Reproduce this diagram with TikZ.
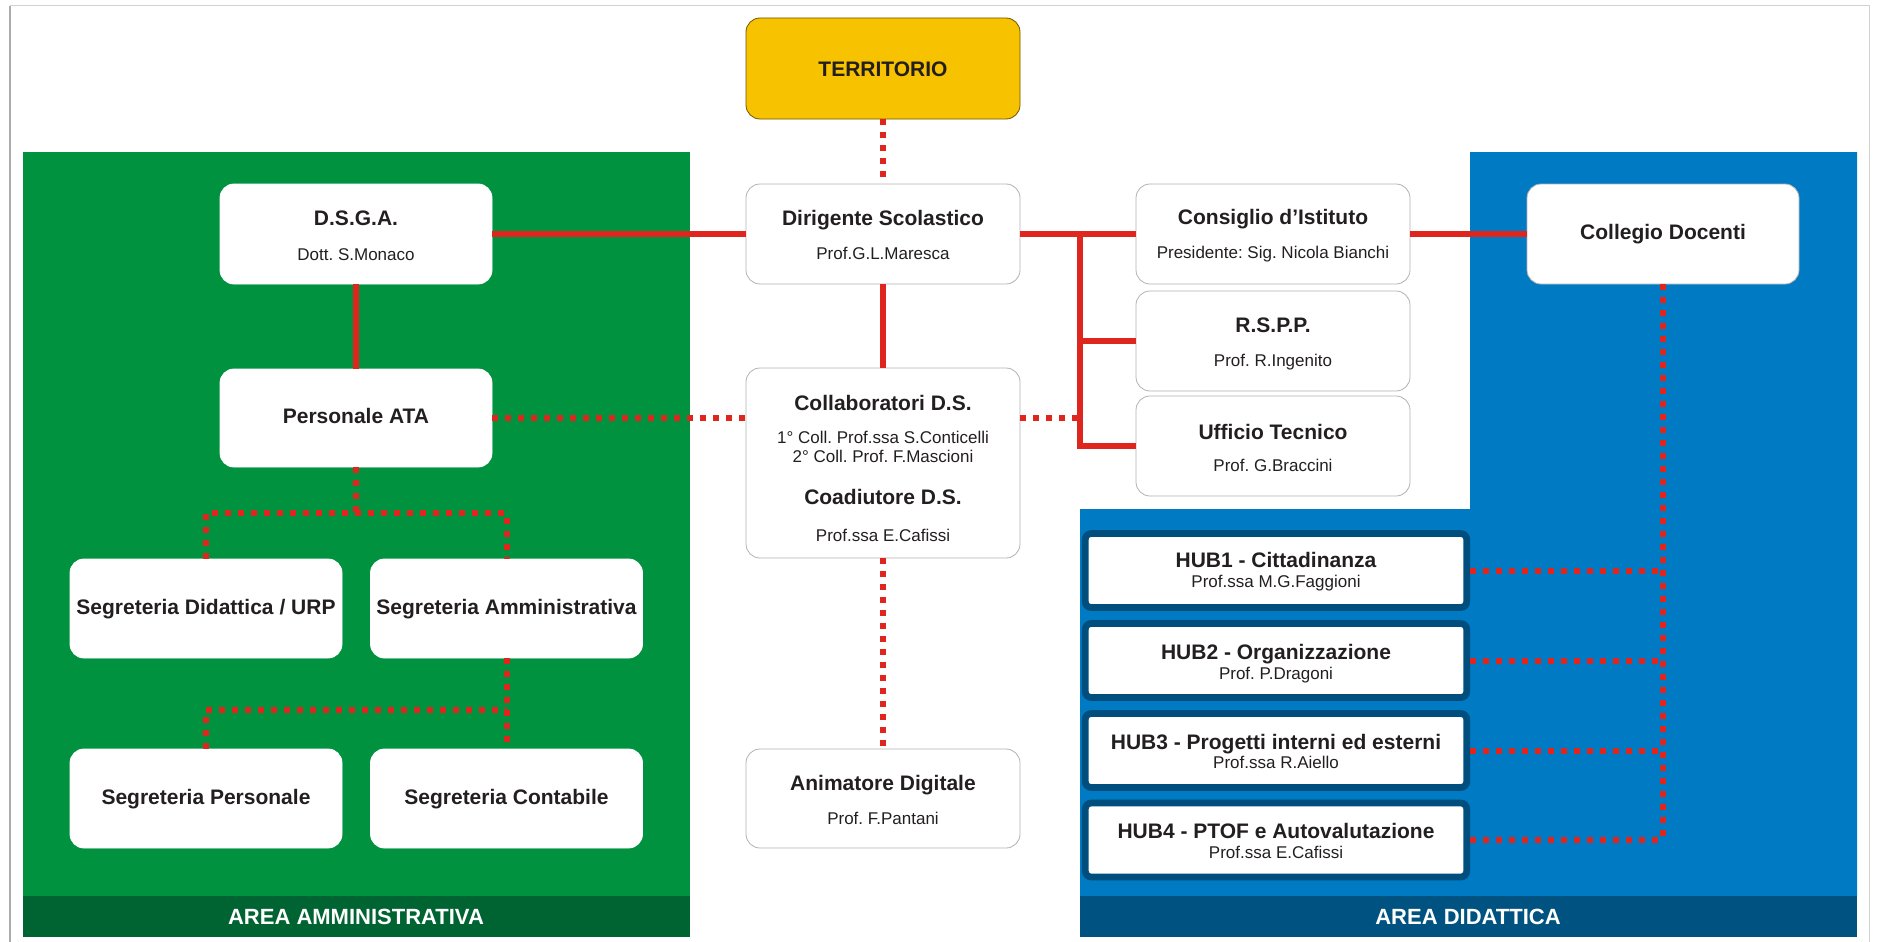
\documentclass[tikz,border=0pt]{standalone}
\usepackage{fontspec}
\setmainfont{Liberation Sans}
\usepackage{xcolor}
\usepackage{tikz}

\definecolor{verde}{RGB}{0,146,63}
\definecolor{verdescuro}{RGB}{0,100,50}
\definecolor{blu}{RGB}{0,122,194}
\definecolor{bluscuro}{RGB}{0,82,128}
\definecolor{hubscuro}{RGB}{0,78,125}
\definecolor{rosso}{RGB}{222,38,30}
\definecolor{giallo}{RGB}{247,194,0}
\definecolor{testo}{RGB}{35,31,32}

\newcommand{\titfont}{\fontsize{21}{25}\selectfont\bfseries}
\newcommand{\nomefont}{\fontsize{17}{20}\selectfont}
\newcommand{\areafont}{\fontsize{22}{26}\selectfont\bfseries}

\begin{document}
\frenchspacing
\begin{tikzpicture}[x=1pt,y=-1pt]
		\tikzstyle{box}=[draw=gray!60, line width=0.8pt, fill=white, rounded corners=14pt, minimum width=274pt, minimum height=100pt, inner sep=0pt, font=\titfont, text=testo, text height=15pt, text depth=4pt]
		\tikzstyle{box_green}=[box, draw=white, minimum width=272pt]
		\tikzstyle{box_terr}=[box, fill=giallo, draw=black!55!giallo, text height=17pt, text depth=0pt]
		\tikzstyle{hub}=[fill=white, draw=hubscuro, line width=6.75pt, rounded corners=6pt, minimum width=381.5pt, minimum height=74pt]
		\tikzstyle{titolo}=[font=\titfont, text=testo, text height=15pt, text depth=4pt, inner sep=0pt]
		\tikzstyle{nome}=[font=\nomefont, text=testo, text height=12.3pt, text depth=3.6pt, inner sep=0pt]
		\tikzstyle{area_text}=[font=\areafont, text=white]
		\tikzstyle{link}=[draw=rosso, line width=6pt]
		\tikzstyle{link_dot}=[link, dash pattern=on 6pt off 7pt]

		\useasboundingbox (0,0) rectangle (1877,942);
		\draw[gray!35, line width=1pt] (10,942) -- (10,6) -- (1869,6) -- (1869,942);
		\draw[gray!65, line width=1.5pt] (10,6) -- (10,942);

		% aree
		\fill[verde] (23,152) rectangle (690,896);
		\fill[verdescuro] (23,896) rectangle (690,937);
		\fill[blu] (1470,152) -- (1857,152) -- (1857,896) -- (1080,896) -- (1080,509) -- (1470,509) -- cycle;
		\fill[bluscuro] (1080,896) rectangle (1857,937);
		\node [area_text] (area_amm) at (356,917) {AREA AMMINISTRATIVA};
		\node [area_text] (area_did) at (1468,917) {AREA DIDATTICA};

		% colonna centrale
		\node [box_terr, minimum height=101pt] (terr) at (883,68.5) {TERRITORIO};

		\node [box] (ds) at (883,234) {};
		\node [titolo] (ds_t) at (883,220) {Dirigente Scolastico};
		\node [nome] (ds_n) at (883,255) {Prof.G.L.Maresca};

		\node [box, minimum height=190pt] (collab) at (883,463) {};
		\node [titolo] (collab_t) at (883,405) {Collaboratori D.S.};
		\node [nome] (collab_n1) at (883,439) {1° Coll. Prof.ssa S.Conticelli};
		\node [nome] (collab_n2) at (883,458) {2° Coll. Prof. F.Mascioni};
		\node [titolo] (coad_t) at (883,499) {Coadiutore D.S.};
		\node [nome] (coad_n) at (883,537) {Prof.ssa E.Cafissi};

		\node [box, minimum height=99pt] (anim) at (883,798.5) {};
		\node [titolo] (anim_t) at (883,785) {Animatore Digitale};
		\node [nome] (anim_n) at (883,820) {Prof. F.Pantani};

		% area amministrativa
		\node [box_green] (dsga) at (356,234) {};
		\node [titolo] (dsga_t) at (356,220) {D.S.G.A.};
		\node [nome] (dsga_n) at (356,256) {Dott. S.Monaco};

		\node [box_green, minimum height=98pt] (ata) at (356,418) {Personale ATA};

		\node [box_green, minimum height=99pt] (seg_did) at (206,608.5) {Segreteria Didattica / URP};
		\node [box_green, minimum height=99pt] (seg_amm) at (506.5,608.5) {Segreteria Amministrativa};
		\node [box_green, minimum height=99pt] (seg_pers) at (206,798.5) {Segreteria Personale};
		\node [box_green, minimum height=99pt] (seg_cont) at (506.5,798.5) {Segreteria Contabile};

		% organi a destra
		\node [box] (consiglio) at (1273,234) {};
		\node [titolo] (consiglio_t) at (1273,219) {Consiglio d’Istituto};
		\node [nome] (consiglio_n) at (1273,254) {Presidente: Sig. Nicola Bianchi};

		\node [box] (rspp) at (1273,341) {};
		\node [titolo] (rspp_t) at (1273,327) {R.S.P.P.};
		\node [nome] (rspp_n) at (1273,362) {Prof. R.Ingenito};

		\node [box] (uff) at (1273,446) {};
		\node [titolo] (uff_t) at (1273,434) {Ufficio Tecnico};
		\node [nome] (uff_n) at (1273,467) {Prof. G.Braccini};

		\node [box, minimum width=272pt] (collegio) at (1663,234) {Collegio Docenti};

		% area didattica
		\node [hub] (hub1) at (1276,570.5) {};
		\node [titolo] (hub1_t) at (1276,562) {HUB1 - Cittadinanza};
		\node [nome] (hub1_n) at (1276,583) {Prof.ssa M.G.Faggioni};

		\node [hub] (hub2) at (1276,660.5) {};
		\node [titolo] (hub2_t) at (1276,654) {HUB2 - Organizzazione};
		\node [nome] (hub2_n) at (1276,675) {Prof. P.Dragoni};

		\node [hub] (hub3) at (1276,750.5) {};
		\node [titolo] (hub3_t) at (1276,744) {HUB3 - Progetti interni ed esterni};
		\node [nome] (hub3_n) at (1276,764) {Prof.ssa R.Aiello};

		\node [hub] (hub4) at (1276,840) {};
		\node [titolo] (hub4_t) at (1276,833) {HUB4 - PTOF e Autovalutazione};
		\node [nome] (hub4_n) at (1276,854) {Prof.ssa E.Cafissi};

		% collegamenti
		\coordinate (br) at (1080,234);
		\coordinate (j1) at (356,513);
		\coordinate (j2) at (506.5,710);

		\draw [link] (dsga.east) -- (ds.west);
		\draw [link] (ds.east) -- (consiglio.west);
		\draw [link] (consiglio.east) -- (collegio.west);
		\draw [link] (br) |- (uff.west);
		\draw [link] (br |- rspp.west) -- (rspp.west);
		\draw [link] (ds.south) -- (collab.north);
		\draw [link] (dsga.south) -- (ata.north);

		\draw [link_dot] (terr.south) -- (ds.north);
		\draw [link_dot] (collab.south) -- (anim.north);
		\draw [link_dot] (ata.east) -- (collab.west |- ata.east);
		\draw [link_dot] (collab.east |- ata.east) -- (br |- ata.east);
		\draw [link_dot] (ata.south) -- (j1);
		\draw [link_dot] (seg_did.north) -- (seg_did.north |- j1) -- (seg_amm.north |- j1) -- (seg_amm.north);
		\draw [link_dot] (seg_amm.south) -- (seg_cont.north);
		\draw [link_dot] (seg_pers.north) -- (seg_pers.north |- j2) -- (j2);

		\draw [link_dot] (collegio.south) -- (collegio.south |- hub4.east);
		\draw [link_dot] (hub1.east) -- (hub1.east -| collegio.south);
		\draw [link_dot] (hub2.east) -- (hub2.east -| collegio.south);
		\draw [link_dot] (hub3.east) -- (hub3.east -| collegio.south);
		\draw [link_dot] (hub4.east) -- (hub4.east -| collegio.south);

	\end{tikzpicture}
\end{document}
